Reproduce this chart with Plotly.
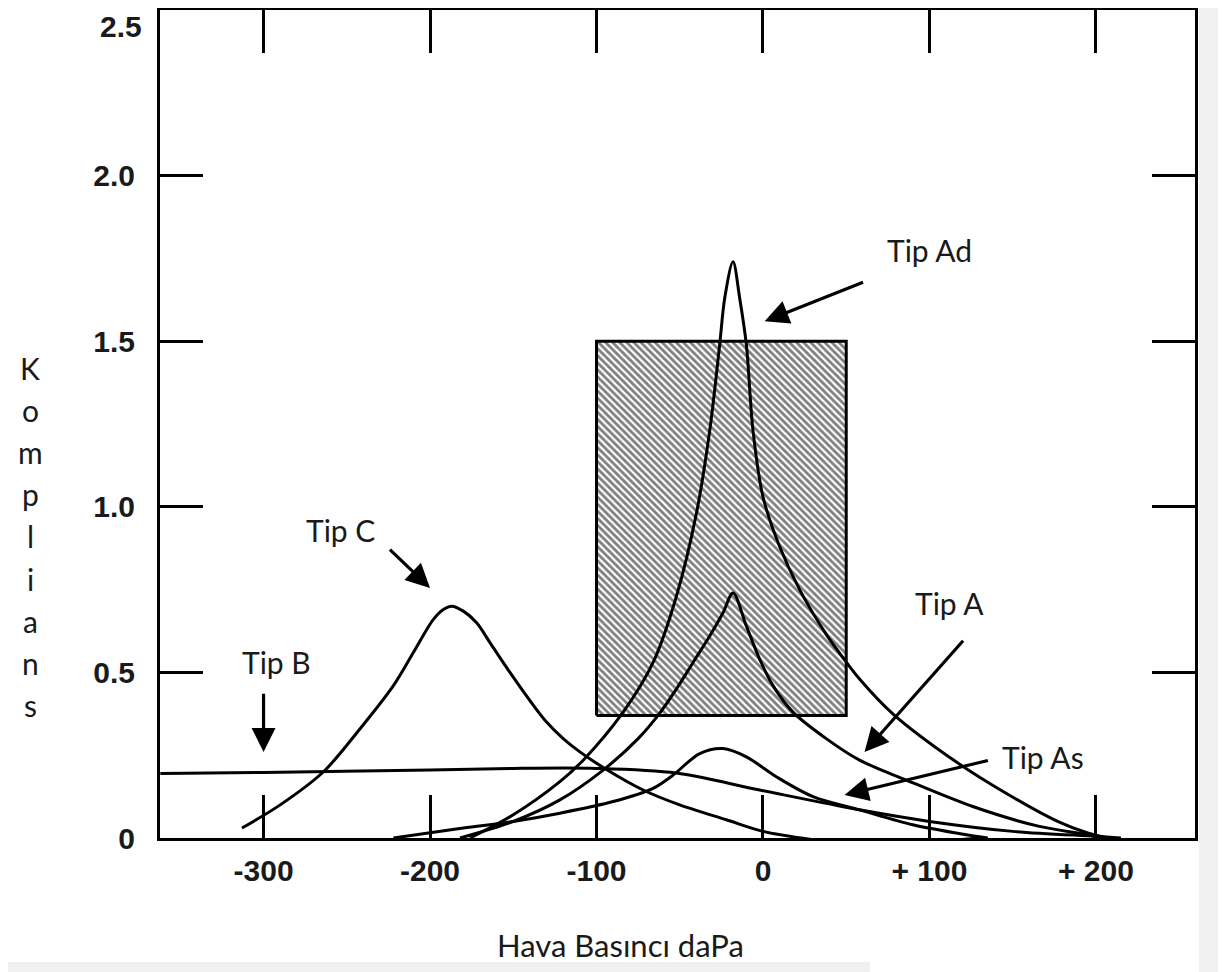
import plotly.graph_objects as go

# ---- data ----
ad_x = [-176, -150, -122, -108, -84, -66, -52, -40, -32, -26, -23, -18, -14, -10, -6, 0, 10, 22, 38, 48, 58, 78, 116, 146, 177, 195, 207]
ad_y = [0, 0.07, 0.17, 0.235, 0.38, 0.53, 0.73, 0.98, 1.23, 1.49, 1.63, 1.74, 1.63, 1.49, 1.23, 1.03, 0.88, 0.75, 0.615, 0.545, 0.48, 0.375, 0.23, 0.135, 0.05, 0.015, 0]

a_x = [-182, -150, -122, -96, -75, -62, -52, -42, -32, -24, -18, -10, -2, 6, 18, 38, 58, 86, 126, 166, 195, 202]
a_y = [0, 0.05, 0.115, 0.205, 0.30, 0.377, 0.45, 0.53, 0.61, 0.68, 0.74, 0.64, 0.54, 0.46, 0.38, 0.30, 0.235, 0.175, 0.095, 0.035, 0.01, 0]

as_x = [-222, -180, -150, -122, -90, -66, -54, -38, -24, -10, 8, 30, 58, 90, 122, 135]
as_y = [0, 0.03, 0.05, 0.075, 0.11, 0.15, 0.19, 0.255, 0.27, 0.245, 0.185, 0.125, 0.085, 0.04, 0.01, 0]

b_x = [-362, -300, -200, -150, -100, -52, -2, 58, 100, 150, 200, 215]
b_y = [0.195, 0.198, 0.205, 0.21, 0.21, 0.196, 0.145, 0.085, 0.05, 0.02, 0.005, 0]

c_x = [-313, -290, -264, -242, -222, -210, -198, -192, -187, -180, -172, -164, -152, -140, -130, -120, -110, -95, -72, -50, -22, 0, 30, 60, 100, 130]
c_y = [0.03, 0.10, 0.20, 0.33, 0.46, 0.56, 0.66, 0.69, 0.70, 0.685, 0.65, 0.59, 0.50, 0.415, 0.35, 0.30, 0.26, 0.21, 0.145, 0.10, 0.055, 0.02, -0.005, -0.022, -0.012, 0]

box_x = [-100, 50]
box_y = [0.37, 1.5]

x_ticks = [-300, -200, -100, 0, 100, 200]
x_tick_text = ["-300", "-200", "-100", "0", "+ 100", "+ 200"]
y_ticks = [0, 0.5, 1.0, 1.5, 2.0, 2.5]
y_tick_text = ["0", "0.5", "1.0", "1.5", "2.0", "2.5"]

labels = ["Tip Ad", "Tip A", "Tip As", "Tip C", "Tip B"]
label_pos = [(100, 1.775), (112, 0.71), (168, 0.245), (-254, 0.93), (-292, 0.53)]
arrow_head = [(1, 1.56), (61, 0.26), (49, 0.13), (-200, 0.755), (-300, 0.26)]
arrow_tail = [(61, 1.68), (121, 0.60), (136, 0.235), (-225, 0.875), (-300, 0.44)]

y_title = "Komplians"
x_title = "Hava Basıncı daPa"

# ---- figure ----
# the page body has an 8px margin, so figure pixels = screen pixels - 8
OFF = 8
W, H = 1228 - OFF, 972 - OFF
L, T = 160 - OFF, 10 - OFF
R = W - (1195 - OFF)
B = H - (838 - OFF)
plot_w = W - L - R
plot_h = H - T - B


def px_x(sx):
    return (sx - OFF - L) / plot_w


def px_y(sy):
    return (H - B - (sy - OFF)) / plot_h


fig = go.Figure()

fig.add_trace(go.Scatter(
    x=[box_x[0], box_x[1], box_x[1], box_x[0], box_x[0]],
    y=[box_y[0], box_y[0], box_y[1], box_y[1], box_y[0]],
    mode="lines", fill="toself",
    fillpattern=dict(shape="\\", fgcolor="black", bgcolor="white", size=5, solidity=0.55),
    line=dict(color="black", width=3), hoverinfo="skip", showlegend=False))

for xs, ys in [(ad_x, ad_y), (a_x, a_y), (as_x, as_y), (b_x, b_y), (c_x, c_y)]:
    fig.add_trace(go.Scatter(x=xs, y=ys, mode="lines",
                             line=dict(color="black", width=3, shape="spline", smoothing=0.9),
                             showlegend=False, cliponaxis=False))

label_font = dict(family="Lato, Open Sans, sans-serif", size=30, color="#1a1a1a")
for txt, (lx, ly), (hx, hy), (tx, ty) in zip(labels, label_pos, arrow_head, arrow_tail):
    fig.add_annotation(x=lx, y=ly, text=txt, showarrow=False, font=label_font,
                       xref="x", yref="y")
    fig.add_annotation(x=hx, y=hy, ax=tx, ay=ty, xref="x", yref="y", axref="x", ayref="y",
                       text="", showarrow=True, arrowhead=2, arrowsize=1.5, arrowwidth=3.2,
                       arrowcolor="black", standoff=0, startstandoff=0)

# vertical y title (letters stacked)
for i, ch in enumerate(y_title):
    sy = 368 + i * 42.1
    fig.add_annotation(x=px_x(30), y=px_y(sy), xref="paper", yref="paper",
                       text=ch, showarrow=False, font=label_font, xanchor="center", yanchor="middle")

fig.add_annotation(x=px_x(620), y=px_y(945), xref="paper", yref="paper",
                   text=x_title, showarrow=False, font=dict(label_font, size=31),
                   xanchor="center", yanchor="middle")

# light gray scan borders
fig.add_shape(type="rect", xref="paper", yref="paper",
              x0=px_x(1199), x1=px_x(1218), y0=px_y(972), y1=px_y(0),
              fillcolor="#f0f0f0", line=dict(width=0), layer="below")
fig.add_shape(type="rect", xref="paper", yref="paper",
              x0=px_x(0), x1=px_x(870), y0=px_y(972), y1=px_y(962),
              fillcolor="#f0f0f0", line=dict(width=0), layer="below")

tick_font = dict(family="Liberation Sans, Arial, sans-serif", size=30, color="#1a1a1a", weight="bold")

# top y tick label sits a little below the corner in the reference
fig.add_annotation(x=0, y=y_ticks[-1], xref="paper", yref="y", text=y_tick_text[-1],
                   showarrow=False, font=tick_font, xanchor="right", yanchor="middle",
                   xshift=-16, yshift=-16)

fig.update_xaxes(range=[-362.2, 259.5], tickvals=x_ticks, ticktext=x_tick_text,
                 showline=True, linecolor="black", linewidth=3, mirror="ticks",
                 ticks="inside", ticklen=43, tickwidth=3, tickcolor="black",
                 showgrid=False, zeroline=False, tickfont=tick_font, ticklabelstandoff=4,
                 automargin=False)
fig.update_yaxes(range=[0, 2.5], tickvals=y_ticks, ticktext=y_tick_text[:-1] + [""],
                 showline=True, linecolor="black", linewidth=3, mirror="ticks",
                 ticks="inside", ticklen=43, tickwidth=3, tickcolor="black",
                 showgrid=False, zeroline=False, tickfont=tick_font, ticklabelstandoff=16,
                 automargin=False)

fig.update_layout(width=W, height=H, margin=dict(l=L, r=R, t=T, b=B, autoexpand=False),
                  paper_bgcolor="white", plot_bgcolor="white", showlegend=False)

fig.write_html("out.html")
